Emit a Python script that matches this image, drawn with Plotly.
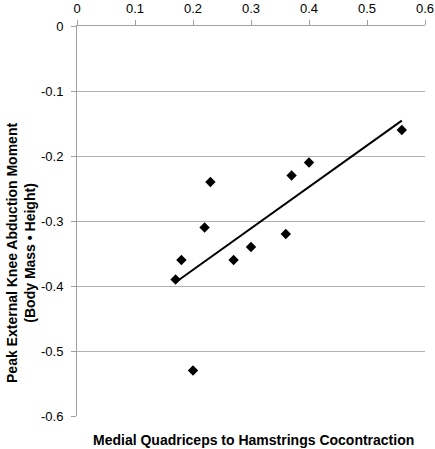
import numpy as np
import plotly.graph_objects as go

cocontraction = [0.17, 0.18, 0.20, 0.22, 0.23, 0.27, 0.30, 0.36, 0.37, 0.40, 0.56]
abduction_moment = [-0.39, -0.36, -0.53, -0.31, -0.24, -0.36, -0.34, -0.32, -0.23, -0.21, -0.16]

x_ticks = [0, 0.1, 0.2, 0.3, 0.4, 0.5, 0.6]
x_tick_labels = ["0", "0.1", "0.2", "0.3", "0.4", "0.5", "0.6"]
y_ticks = [0, -0.1, -0.2, -0.3, -0.4, -0.5, -0.6]
y_tick_labels = ["0", "-0.1", "-0.2", "-0.3", "-0.4", "-0.5", "-0.6"]

slope, intercept = np.polyfit(cocontraction, abduction_moment, 1)
fit_x = [min(cocontraction), max(cocontraction)]
fit_y = [slope * v + intercept for v in fit_x]

font = "Liberation Sans, Arial, Helvetica, sans-serif"

fig = go.Figure()
fig.add_trace(go.Scatter(x=fit_x, y=fit_y, mode="lines",
                         line=dict(color="black", width=2), showlegend=False))
fig.add_trace(go.Scatter(x=cocontraction, y=abduction_moment, mode="markers",
                         marker=dict(symbol="diamond", size=8, color="black"),
                         showlegend=False))

fig.update_layout(
    width=435, height=449,
    margin=dict(l=77, r=10, t=26, b=33, autoexpand=False),
    plot_bgcolor="white", paper_bgcolor="white",
    font=dict(family=font, size=13, color="black"),
    xaxis=dict(side="top", range=[0, 0.6], tickvals=x_ticks, ticktext=x_tick_labels,
               showgrid=False, zeroline=False, showline=True, linecolor="#a0a0a0",
               linewidth=1, ticks="outside", ticklen=5, tickcolor="#a0a0a0",
               tickfont=dict(size=13), automargin=False, ticklabelstandoff=2),
    yaxis=dict(range=[-0.6, 0], tickvals=y_ticks, ticktext=y_tick_labels,
               showgrid=True, gridcolor="#b0b0b0", gridwidth=1, zeroline=False,
               showline=True, linecolor="#a0a0a0", linewidth=1,
               ticks="outside", ticklen=5, tickcolor="#a0a0a0",
               tickfont=dict(size=13), automargin=False, ticklabelstandoff=5),
    annotations=[
        dict(text="<b>Medial Quadriceps to Hamstrings Cocontraction</b>",
             xref="paper", yref="paper", x=0.507, y=0, yshift=-24,
             showarrow=False, font=dict(size=14), xanchor="center", yanchor="middle"),
        dict(text="<b>Peak External Knee Abduction Moment<br>(Body Mass \u2022 Height)</b>",
             xref="paper", yref="paper", x=0, xshift=-56, y=0.418,
             showarrow=False, textangle=-90, font=dict(size=14),
             xanchor="center", yanchor="middle"),
    ],
)

fig.write_html("out.html", config={"displayModeBar": False},
               post_script="document.body.style.margin='0';")
